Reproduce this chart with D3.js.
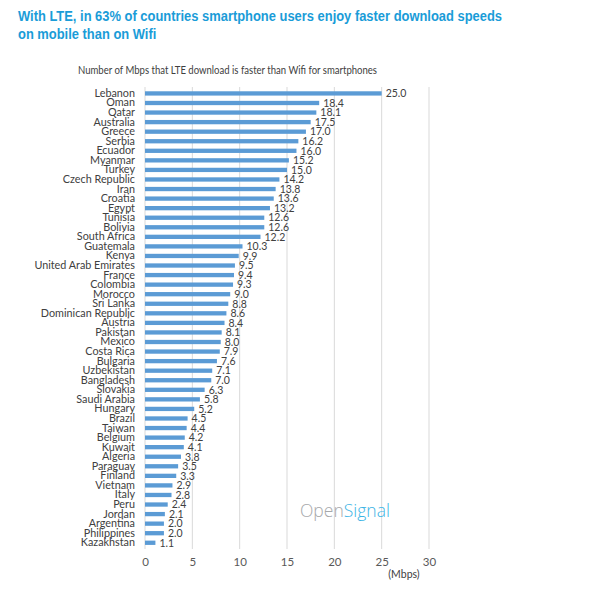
<!DOCTYPE html>
<html><head><meta charset="utf-8">
<script src="https://cdn.jsdelivr.net/npm/d3@7"></script>
<style>body{margin:0;background:#fff;} svg{display:block;}</style>
</head><body>
<script>
const countries = ["Lebanon","Oman","Qatar","Australia","Greece","Serbia","Ecuador","Myanmar","Turkey","Czech Republic","Iran","Croatia","Egypt","Tunisia","Bolivia","South Africa","Guatemala","Kenya","United Arab Emirates","France","Colombia","Morocco","Sri Lanka","Dominican Republic","Austria","Pakistan","Mexico","Costa Rica","Bulgaria","Uzbekistan","Bangladesh","Slovakia","Saudi Arabia","Hungary","Brazil","Taiwan","Belgium","Kuwait","Algeria","Paraguay","Finland","Vietnam","Italy","Peru","Jordan","Argentina","Philippines","Kazakhstan"];
const values = [25.0,18.4,18.1,17.5,17.0,16.2,16.0,15.2,15.0,14.2,13.8,13.6,13.2,12.6,12.6,12.2,10.3,9.9,9.5,9.4,9.3,9.0,8.8,8.6,8.4,8.1,8.0,7.9,7.6,7.1,7.0,6.3,5.8,5.2,4.5,4.4,4.2,4.1,3.8,3.5,3.3,2.9,2.8,2.4,2.1,2.0,2.0,1.1];
const xTicks = [0,5,10,15,20,25,30];
const title = ["With LTE, in 63% of countries smartphone users enjoy faster download speeds","on mobile than on Wifi"];
const subtitle = "Number of Mbps that LTE download is faster than Wifi for smartphones";

const W = 600, H = 589;
const svg = d3.select("body").append("svg").attr("width", W).attr("height", H);
const font = "Lato, 'Open Sans', sans-serif";

const tt = svg.selectAll("text.title").data(title).join("text").attr("class","title")
  .attr("x", 18).attr("y", (d,i) => 21 + i*17.5)
  .attr("font-family", "'Liberation Sans', Arial, sans-serif")
  .attr("font-weight", "bold").attr("font-size", 14.5)
  .attr("fill", "#1a9cd8").text(d => d);
const scale = 484 / tt.nodes()[0].getComputedTextLength();
tt.each(function() {
  const n = this.getComputedTextLength();
  d3.select(this).attr("textLength", n * scale).attr("lengthAdjust", "spacingAndGlyphs");
});

const st = svg.append("text").attr("x", 227.5).attr("y", 73.5).attr("text-anchor", "middle")
  .attr("font-family", font).attr("font-size", 10.8).attr("fill", "#404040").text(subtitle);
st.attr("textLength", 299).attr("lengthAdjust", "spacingAndGlyphs");

const x = d3.scaleLinear().domain([0,30]).range([145,429]);
const y = d3.scaleBand().domain(countries).range([88.7, 547.5]).paddingInner(0.55).paddingOuter(0.27);

// gridlines
svg.append("g").selectAll("line").data(xTicks).join("line")
  .attr("x1", d => x(d)).attr("x2", d => x(d)).attr("y1", 87).attr("y2", 549)
  .attr("stroke", "#d9d9d9").attr("stroke-width", 1);

// axis labels
const xAxis = d3.axisBottom(x).tickValues(xTicks).tickSize(0).tickPadding(0);
const gx = svg.append("g").attr("transform", "translate(0,558)").call(xAxis);
gx.select(".domain").remove();
gx.selectAll("text").attr("font-family", font).attr("font-size", 11.5).attr("fill", "#595959");

svg.append("text").attr("x", 404).attr("y", 578).attr("text-anchor", "middle")
  .attr("font-family", font).attr("font-size", 10.5).attr("fill", "#404040").text("(Mbps)");

// bars
svg.append("g").selectAll("rect").data(values).join("rect")
  .attr("x", x(0)).attr("y", (d,i) => y(countries[i]))
  .attr("width", d => x(d) - x(0)).attr("height", y.bandwidth())
  .attr("fill", "#5b9bd5");

// value labels
svg.append("g").selectAll("text").data(values).join("text")
  .attr("x", d => x(d) + 4).attr("y", (d,i) => y(countries[i]) + y.bandwidth()/2)
  .attr("dy", "0.36em")
  .attr("font-family", font).attr("font-size", 10.5).attr("fill", "#404040")
  .text(d => d.toFixed(1));

// category labels
const yAxis = d3.axisLeft(y).tickSize(0).tickPadding(0);
const gy = svg.append("g").attr("transform", "translate(135,0)").call(yAxis);
gy.select(".domain").remove();
gy.selectAll("text").attr("font-family", font).attr("font-size", 10.8).attr("fill", "#404040");

// logo
const logo = svg.append("text").attr("x", 300).attr("y", 517)
  .attr("font-family", "'Open Sans', sans-serif").attr("font-weight", 300).attr("font-size", 17.5);
logo.append("tspan").attr("fill", "#a6a8ab").text("Open");
logo.append("tspan").attr("fill", "#3cb4e5").text("Signal");
</script>
</body></html>
